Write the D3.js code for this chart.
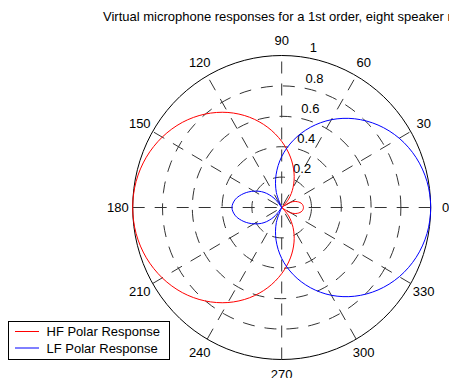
<!DOCTYPE html>
<html>
<head>
<meta charset="utf-8">
<script src="https://cdn.jsdelivr.net/npm/d3@7"></script>
<style>
  html, body { margin: 0; padding: 0; background: #fff; }
  svg { display: block; }
  text { font-family: "Liberation Sans", Arial, Helvetica, sans-serif; font-size: 13px; fill: #000; }
</style>
</head>
<body>
<svg id="chart" width="449" height="378"></svg>
<script>
// Sample angles (degrees) shared by both responses
const angles = [0,10,20,30,40,50,60,70,80,90,100,110,120,130,140,150,160,170,
                180,190,200,210,220,230,240,250,260,270,280,290,300,310,320,330,340,350];

// High-frequency virtual microphone magnitude (main lobe toward 180°)
const hfResponse = [0.146,0.138,0.112,0.070,0.000,0.072,0.153,0.242,0.337,0.435,0.535,0.632,
                    0.722,0.802,0.871,0.926,0.967,0.992,1.000,0.992,0.967,0.926,0.871,0.802,
                    0.722,0.632,0.535,0.435,0.337,0.242,0.153,0.072,0.000,0.070,0.112,0.138];

// Low-frequency virtual microphone magnitude (main lobe toward 0°)
const lfResponse = [1.000,0.990,0.960,0.911,0.844,0.762,0.667,0.561,0.449,0.335,0.218,0.105,
                    0.000,0.080,0.155,0.215,0.270,0.315,0.334,0.315,0.270,0.215,0.155,0.080,
                    0.000,0.105,0.218,0.335,0.449,0.561,0.667,0.762,0.844,0.911,0.960,0.990];

const seriesNames = ["HF Polar Response", "LF Polar Response"];
const seriesColors = ["#ff0000", "#0000ff"];

// Spoke angles and their labels, radial ring values
const spokeAngles = [30, 60, 90, 120, 150, 180];
const angleLabels = [0,30,60,90,120,150,180,210,240,270,300,330];
const ringTicks = [0.2, 0.4, 0.6, 0.8, 1];

const titleText = "Virtual microphone responses for a 1st order, eight speaker rig";

const svg = d3.select("#chart");
const cx = 281.7, cy = 207.5;
const rx = d3.scaleLinear().domain([0, 1]).range([0, 149]);
const ry = d3.scaleLinear().domain([0, 1]).range([0, 152]);
const rad = d => d * Math.PI / 180;
const px = (r, deg) => cx + rx(r) * Math.cos(rad(deg));
const py = (r, deg) => cy - ry(r) * Math.sin(rad(deg));

const gridColor = "#333";
const dash = "12,10";

// Ring path: polygon with 100 segments, starting at 0° and going counter-clockwise
const ringSteps = d3.range(0, 101).map(i => i * 3.6);
const lineXY = d3.line().x(d => d[0]).y(d => d[1]);

const grid = svg.append("g");
ringTicks.forEach(t => {
  const outer = t === ringTicks[ringTicks.length - 1];
  grid.append("path")
    .attr("d", lineXY(ringSteps.map(a => [px(t, a), py(t, a)])))
    .attr("fill", "none")
    .attr("stroke", outer ? "#000" : gridColor)
    .attr("stroke-width", 1)
    .attr("stroke-dasharray", outer ? null : dash);
});

// Spokes run across the full diameter, from the opposite side to the labelled side
spokeAngles.forEach(a => {
  grid.append("line")
    .attr("x1", px(1, a + 180)).attr("y1", py(1, a + 180))
    .attr("x2", px(1, a)).attr("y2", py(1, a))
    .attr("stroke", gridColor)
    .attr("stroke-width", 1)
    .attr("stroke-dasharray", dash);
});

// Angle labels just outside the outer ring
svg.append("g").selectAll("text")
  .data(angleLabels)
  .join("text")
  .attr("x", a => px(1.1, a))
  .attr("y", a => py(1.1, a))
  .attr("text-anchor", "middle")
  .attr("dominant-baseline", "central")
  .text(a => a);

// Ring value labels along the 82° direction
svg.append("g").selectAll("text")
  .data(ringTicks)
  .join("text")
  .attr("x", t => px(t + 0.01, 82) + 7)
  .attr("y", t => py(t + 0.01, 82) - 3)
  .text(t => d3.format("~g")(t));

// Split a closed response into lobes that start and end at the nulls
function lobes(values) {
  const n = values.length;
  const start = values.findIndex(v => v === 0);
  const pts = [];
  for (let k = 0; k <= n; k++) {
    const i = (start + k) % n;
    pts.push({ a: angles[i], r: values[i] });
  }
  const out = [];
  let cur = [pts[0]];
  for (let k = 1; k < pts.length; k++) {
    cur.push(pts[k]);
    if (pts[k].r === 0) { out.push(cur); cur = [pts[k]]; }
  }
  if (cur.length > 1) out.push(cur);
  return out;
}

const curve = d3.line()
  .x(d => px(d.r, d.a))
  .y(d => py(d.r, d.a))
  .curve(d3.curveCatmullRom.alpha(0.5));

[hfResponse, lfResponse].forEach((vals, si) => {
  const g = svg.append("g");
  lobes(vals).forEach(seg => {
    g.append("path")
      .attr("d", curve(seg))
      .attr("fill", "none")
      .attr("stroke", seriesColors[si])
      .attr("stroke-width", 1);
  });
});

// Title
svg.append("text")
  .attr("x", 103)
  .attr("y", 21)
  .text(titleText);

// Legend
const legend = svg.append("g");
legend.append("rect")
  .attr("x", 8.5).attr("y", 321.5)
  .attr("width", 161).attr("height", 38)
  .attr("fill", "#fff").attr("stroke", "#000").attr("stroke-width", 1);
seriesNames.forEach((name, i) => {
  const y = 331.5 + i * 16.5;
  legend.append("line")
    .attr("x1", 15).attr("x2", 39)
    .attr("y1", y).attr("y2", y)
    .attr("stroke", seriesColors[i]).attr("stroke-width", 1);
  legend.append("text")
    .attr("x", 46.5).attr("y", y + 4.5)
    .text(name);
});
</script>
</body>
</html>
